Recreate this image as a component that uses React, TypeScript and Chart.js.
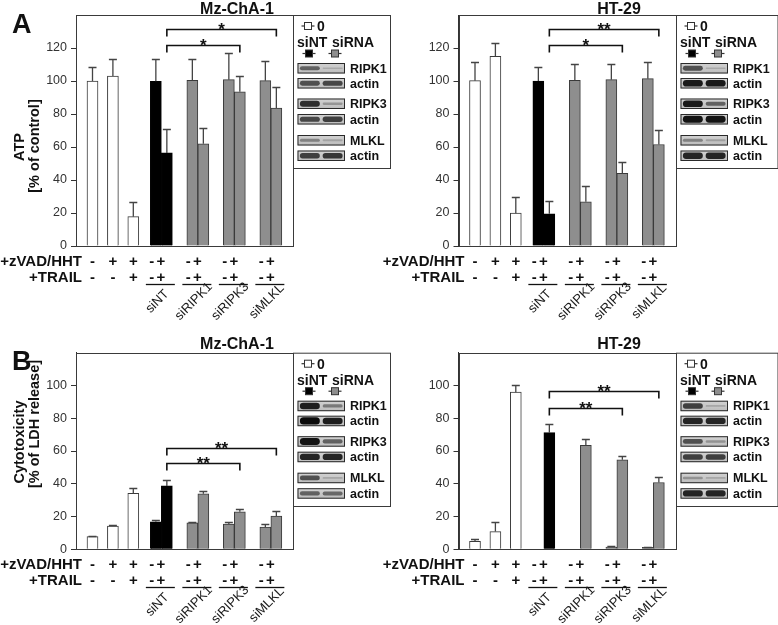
import React, { useEffect, useRef } from 'react';
import { Chart, registerables } from 'chart.js';

Chart.register(...registerables);

const W = 778;
const H = 625;
const FONT = '"Liberation Sans", Arial, Helvetica, sans-serif';

// ---------- categories / labels ----------
const barSeries = ['0', '0', '0', 'siNT', 'siNT', 'siRNA', 'siRNA', 'siRNA', 'siRNA', 'siRNA', 'siRNA'];
const zvadSigns = ['-', '+', '+', '-', '+', '-', '+', '-', '+', '-', '+'];
const trailSigns = ['-', '-', '+', '-', '+', '-', '+', '-', '+', '-', '+'];
const sirnaGroups = ['siNT', 'siRIPK1', 'siRIPK3', 'siMLKL'];
const blotLabels = ['RIPK1', 'actin', 'RIPK3', 'actin', 'MLKL', 'actin'];

// ---------- values ----------
const atpMz = [100, 103, 17.8, 99.8, 56.4, 100.4, 61.9, 100.8, 93.5, 100.2, 83.6];
const atpMzErr = [8.5, 10.6, 8.8, 13.8, 14.6, 13.2, 9.9, 16.4, 9.5, 12, 13];
const atpHt = [100.2, 115, 19.9, 100, 19.5, 100.4, 26.8, 100.8, 44, 101.4, 61.5];
const atpHtErr = [11.4, 8.3, 9.7, 8.5, 7.9, 10.1, 9.5, 9.7, 6.7, 10.2, 8.9];
const ldhMz = [7.7, 14.2, 34.1, 16.8, 38.7, 16.2, 33.9, 15.4, 22.9, 13.6, 20.3];
const ldhMzErr = [0.3, 0.4, 3.2, 1.0, 3.3, 0.2, 1.4, 1.4, 1.4, 1.6, 3.2];
const ldhHt = [4.9, 10.8, 95.9, 0, 71.2, 0, 63.5, 1.4, 54.6, 1.2, 40.8];
const ldhHtErr = [1.6, 5.6, 4.5, 0, 5.5, 0, 4.0, 0.4, 2.6, 0.4, 3.6];

const atpRange = [0, 140];
const ldhRange = [0, 120];
const atpTicks = [0, 20, 40, 60, 80, 100, 120];
const ldhTicks = [0, 20, 40, 60, 80, 100];

// significance brackets: [from bar, to bar, y value, mark]
const sigAtpMz = [[4, 10, 131.5, '*'], [4, 8, 121.9, '*']];
const sigAtpHt = [[4, 10, 131.5, '**'], [4, 8, 121.9, '*']];
const sigLdhMz = [[4, 10, 62, '**'], [4, 8, 52.5, '**']];
const sigLdhHt = [[4, 10, 96.4, '**'], [4, 8, 86.4, '**']];

// western blot band strengths [siNT lane, siRNA lane]
const blotAtpMz = [[0.5, 0.06], [0.6, 0.65], [0.8, 0.18], [0.65, 0.7], [0.3, 0.1], [0.7, 0.75]];
const blotAtpHt = [[0.6, 0.06], [0.92, 0.92], [0.92, 0.5], [0.95, 0.95], [0.3, 0.12], [0.85, 0.85]];
const blotLdhMz = [[0.9, 0.35], [1, 0.9], [0.95, 0.5], [0.85, 0.85], [0.6, 0.08], [0.5, 0.45]];
const blotLdhHt = [[0.7, 0.08], [0.85, 0.85], [0.6, 0.2], [0.7, 0.7], [0.2, 0.08], [0.85, 0.85]];

// ---------- styling / layout ----------
const seriesColor: Record<string, string> = { '0': '#ffffff', siNT: '#000000', siRNA: '#8e8e8e' };
const seriesKeys = ['0', 'siNT', 'siRNA'];
const Y_AXIS_W = 40;

const pairX = (g: number) => 85.35 + 36.5 * g;
const barX = (i: number) =>
  i < 3 ? 16.5 + 20.4 * i : pairX(Math.floor((i - 3) / 2)) + ((i - 3) % 2 === 0 ? -5.5 : 5.5);

type Panel = {
  values: number[]; errs: number[]; range: number[]; ticks: number[];
  sig: any[][]; blots: number[][];
  box: number[]; legend: number[];
  title: string; titleX: number; titleBase: number;
  letter?: string; letterBase?: number;
  yTitle?: string[]; yTitleX?: number[]; yTitleY?: number[];
};

const panels: Panel[] = [
  {
    values: atpMz, errs: atpMzErr, range: atpRange, ticks: atpTicks, sig: sigAtpMz, blots: blotAtpMz,
    box: [76, 293, 15, 246], legend: [293, 390, 15, 168],
    title: 'Mz-ChA-1', titleX: 237, titleBase: 14, letter: 'A', letterBase: 33,
    yTitle: ['ATP', '[% of control]'], yTitleX: [19, 34], yTitleY: [147, 146],
  },
  {
    values: atpHt, errs: atpHtErr, range: atpRange, ticks: atpTicks, sig: sigAtpHt, blots: blotAtpHt,
    box: [458.5, 676, 15, 246], legend: [676, 777.5, 15, 168],
    title: 'HT-29', titleX: 619, titleBase: 14,
  },
  {
    values: ldhMz, errs: ldhMzErr, range: ldhRange, ticks: ldhTicks, sig: sigLdhMz, blots: blotLdhMz,
    box: [76, 293, 352.7, 549.3], legend: [293, 390, 352.7, 506],
    title: 'Mz-ChA-1', titleX: 237, titleBase: 348.5, letter: 'B', letterBase: 370,
    yTitle: ['Cytotoxicity', '[% of LDH release]'], yTitleX: [19, 34], yTitleY: [442, 424],
  },
  {
    values: ldhHt, errs: ldhHtErr, range: ldhRange, ticks: ldhTicks, sig: sigLdhHt, blots: blotLdhHt,
    box: [458.5, 676, 352.7, 549.3], legend: [676, 777.5, 352.7, 506],
    title: 'HT-29', titleX: 619, titleBase: 348.5,
  },
];

function drawMarker(ctx: CanvasRenderingContext2D, cx: number, cy: number, fill: string) {
  ctx.strokeStyle = '#333';
  ctx.lineWidth = 1.2;
  ctx.beginPath();
  ctx.moveTo(cx - 6.5, cy);
  ctx.lineTo(cx + 6.5, cy);
  ctx.stroke();
  ctx.fillStyle = fill;
  ctx.fillRect(cx - 3.5, cy - 3.5, 7, 7);
  ctx.lineWidth = 1;
  ctx.strokeRect(cx - 3.5, cy - 3.5, 7, 7);
}

function drawBlot(ctx: CanvasRenderingContext2D, x: number, y: number, w: number, h: number, s: number[]) {
  const g = ctx.createLinearGradient(0, y, 0, y + h);
  g.addColorStop(0, '#d2d2d2');
  g.addColorStop(1, '#bcbcbc');
  ctx.fillStyle = g;
  ctx.fillRect(x, y, w, h);
  s.forEach((v, lane) => {
    const cx = x + w * (lane === 0 ? 0.26 : 0.74);
    const hw = w * 0.21;
    const bh = Math.min(h - 2, 1.2 + 6 * v);
    ctx.fillStyle = `rgba(12,12,12,${0.1 + 0.9 * v})`;
    ctx.beginPath();
    (ctx as any).roundRect(cx - hw, y + h / 2 - bh / 2, hw * 2, bh, bh / 2);
    ctx.fill();
  });
  ctx.strokeStyle = '#2a2a2a';
  ctx.lineWidth = 1;
  ctx.strokeRect(x + 0.5, y + 0.5, w - 1, h - 1);
}

function makeExtras(p: Panel) {
  return {
    id: 'extras',
    afterDraw(chart: any) {
      const ctx: CanvasRenderingContext2D = chart.ctx;
      const a = chart.chartArea;
      const xs = chart.scales.x;
      const ys = chart.scales.y;
      const px = (v: number) => xs.getPixelForValue(v);
      const py = (v: number) => ys.getPixelForValue(v);
      ctx.save();

      // plot frame
      ctx.strokeStyle = '#3a3a3a';
      ctx.lineWidth = 1;
      ctx.strokeRect(Math.round(a.left) + 0.5, Math.round(a.top) + 0.5,
        Math.round(a.right) - Math.round(a.left), Math.round(a.bottom) - Math.round(a.top));

      // error bars (upper only)
      chart.data.datasets.forEach((ds: any, di: number) => {
        const meta = chart.getDatasetMeta(di);
        meta.data.forEach((el: any, j: number) => {
          const e = ds.errs[j];
          const v = ds.data[j].y;
          if (!e) return;
          const y0 = py(v);
          const y1 = Math.round(py(v + e)) + 0.5;
          ctx.strokeStyle = '#444';
          ctx.lineWidth = 1.3;
          ctx.beginPath();
          ctx.moveTo(el.x, y0);
          ctx.lineTo(el.x, y1);
          ctx.moveTo(el.x - 4, y1);
          ctx.lineTo(el.x + 4, y1);
          ctx.stroke();
        });
      });

      // significance brackets
      p.sig.forEach(([f, t, yv, mark]) => {
        const x1 = px(barX(f));
        const x2 = px(barX(t));
        const yy = Math.round(py(yv)) + 0.5;
        ctx.strokeStyle = '#111';
        ctx.lineWidth = 1.6;
        ctx.beginPath();
        ctx.moveTo(x1, yy + 7);
        ctx.lineTo(x1, yy);
        ctx.lineTo(x2, yy);
        ctx.lineTo(x2, yy + 7);
        ctx.stroke();
        ctx.font = `bold 17px ${FONT}`;
        ctx.textAlign = 'center';
        ctx.textBaseline = 'alphabetic';
        ctx.fillStyle = '#111';
        ctx.fillText(mark, (x1 + x2) / 2, yy + 5);
      });

      // treatment rows
      const base = a.bottom;
      const r1 = base + 14.5 + 5.4;
      const r2 = base + 30.5 + 5.4;
      ctx.fillStyle = '#111';
      ctx.textBaseline = 'alphabetic';
      ctx.font = `bold 15px ${FONT}`;
      ctx.textAlign = 'right';
      ctx.fillText('+zVAD/HHT', a.left + 6, r1);
      ctx.fillText('+TRAIL', a.left + 6, r2);
      ctx.textAlign = 'center';
      zvadSigns.forEach((s, i) => {
        let sx: number;
        if (i < 3) sx = px(barX(i));
        else {
          const pc = px(pairX(Math.floor((i - 3) / 2)));
          sx = (i - 3) % 2 === 0 ? pc - 9.5 : pc - 0.5;
        }
        ctx.fillText(s, sx, r1);
        ctx.fillText(trailSigns[i], sx, r2);
      });

      // siRNA group underlines and rotated labels
      sirnaGroups.forEach((lab, g) => {
        const pc = px(pairX(g));
        ctx.strokeStyle = '#111';
        ctx.lineWidth = 1.3;
        ctx.beginPath();
        ctx.moveTo(pc - 15.5, Math.round(base + 37.5) + 0.5);
        ctx.lineTo(pc + 13.5, Math.round(base + 37.5) + 0.5);
        ctx.stroke();
        ctx.save();
        ctx.translate(pc - 4, base + 55.5);
        ctx.rotate(-Math.PI / 4);
        ctx.font = `13px ${FONT}`;
        ctx.textAlign = 'center';
        ctx.textBaseline = 'middle';
        ctx.fillStyle = '#1a1a1a';
        ctx.fillText(lab, 0, 0);
        ctx.restore();
      });

      // legend box with blots
      const [L, R, T, B] = p.legend;
      ctx.strokeStyle = '#3a3a3a';
      ctx.lineWidth = 1;
      ctx.strokeRect(L + 0.5, T + 0.5, R - L, B - T);
      drawMarker(ctx, L + 15, T + 11, '#ffffff');
      ctx.fillStyle = '#111';
      ctx.font = `bold 14px ${FONT}`;
      ctx.textAlign = 'left';
      ctx.textBaseline = 'alphabetic';
      ctx.fillText('0', L + 24, T + 16);
      ctx.fillText('siNT', L + 4, T + 32);
      ctx.fillText('siRNA', L + 39, T + 32);
      drawMarker(ctx, L + 16, T + 38.5, seriesColor.siNT);
      drawMarker(ctx, L + 42, T + 38.5, seriesColor.siRNA);
      const tops = [48, 63, 83.5, 99, 120, 135.5];
      tops.forEach((tt, r) => {
        drawBlot(ctx, L + 4.5, T + tt, 47.5, 10.5, p.blots[r]);
        ctx.fillStyle = '#111';
        ctx.font = `bold 12.5px ${FONT}`;
        ctx.textAlign = 'left';
        ctx.fillText(blotLabels[r], L + 57, T + tt + 5.25 + 4.5);
      });

      // title
      ctx.fillStyle = '#111';
      ctx.font = `bold 16px ${FONT}`;
      ctx.textAlign = 'center';
      ctx.fillText(p.title, p.titleX, p.titleBase);

      if (p.letter) {
        ctx.font = `bold 27px ${FONT}`;
        ctx.textAlign = 'left';
        ctx.fillText(p.letter, 12, p.letterBase!);
      }
      if (p.yTitle) {
        p.yTitle.forEach((t, k) => {
          ctx.save();
          ctx.translate(p.yTitleX![k] + 5.2, p.yTitleY![k]);
          ctx.rotate(-Math.PI / 2);
          ctx.font = `bold 14.5px ${FONT}`;
          ctx.textAlign = 'center';
          ctx.textBaseline = 'alphabetic';
          ctx.fillText(t, 0, 0);
          ctx.restore();
        });
      }
      ctx.restore();
    },
  };
}

function PanelChart({ p }: { p: Panel }) {
  const ref = useRef<HTMLCanvasElement>(null);
  useEffect(() => {
    const [left, right, top, bottom] = p.box;
    const datasets = seriesKeys.map((k) => {
      const idx = barSeries.map((s, i) => (s === k ? i : -1)).filter((i) => i >= 0);
      return {
        label: k,
        data: idx.map((i) => ({ x: barX(i), y: p.values[i] })),
        errs: idx.map((i) => p.errs[i]),
        backgroundColor: seriesColor[k],
        borderColor: k === 'siNT' ? '#000' : '#3a3a3a',
        borderWidth: 1,
        borderSkipped: 'start',
        barThickness: 11,
        maxBarThickness: 11,
        grouped: false,
      };
    });
    const chart = new Chart(ref.current as HTMLCanvasElement, {
      type: 'bar',
      data: { datasets } as any,
      options: {
        animation: false,
        responsive: false,
        events: [],
        layout: {
          padding: { left: left - Y_AXIS_W, right: W - right, top, bottom: H - bottom },
        },
        plugins: { legend: { display: false }, tooltip: { enabled: false }, title: { display: false } },
        scales: {
          x: { type: 'linear', min: 0, max: right - left, offset: false, display: false },
          y: {
            min: p.range[0],
            max: p.range[1],
            afterFit: (s: any) => { s.width = Y_AXIS_W; },
            afterBuildTicks: (s: any) => { s.ticks = p.ticks.map((v) => ({ value: v })); },
            ticks: { font: { family: FONT, size: 12.5 }, color: '#333', padding: 4 },
            grid: { drawOnChartArea: false, tickLength: 5, color: '#333' },
            border: { color: '#333', width: 1 },
          },
        },
      } as any,
      plugins: [makeExtras(p)],
    });
    return () => chart.destroy();
  }, []);
  return (
    <canvas
      ref={ref}
      width={W}
      height={H}
      style={{ position: 'absolute', left: 0, top: 0, width: W, height: H }}
    />
  );
}

export default function App() {
  return (
    <div style={{ position: 'absolute', left: 0, top: 0, width: W, height: H, background: '#fff', overflow: 'hidden' }}>
      {panels.map((p, i) => (
        <PanelChart key={i} p={p} />
      ))}
    </div>
  );
}
